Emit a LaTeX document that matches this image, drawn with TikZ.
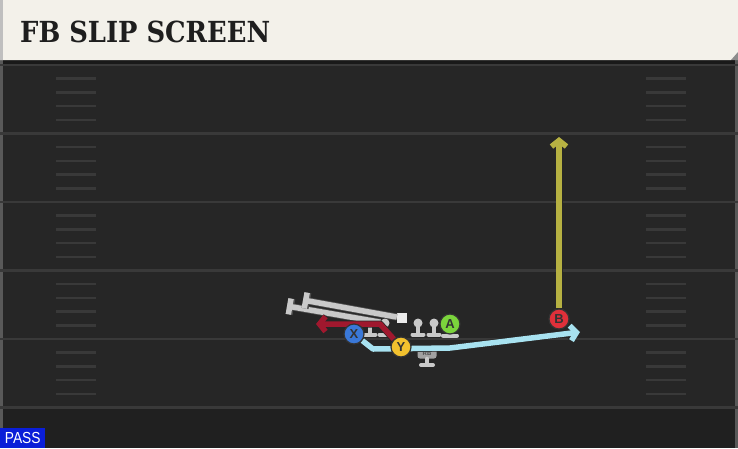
\documentclass[tikz,border=0pt]{standalone}
\usepackage{fontspec}
\setsansfont{Liberation Sans}
\newfontfamily\titlefont{DejaVu Serif}
\usetikzlibrary{arrows.meta}
\usetikzlibrary{positioning}

\definecolor{headerbg}{HTML}{F3F1EA}
\definecolor{titleblack}{HTML}{1E1E1E}
\definecolor{fieldbg}{HTML}{262626}
\definecolor{fieldlow}{HTML}{202020}
\definecolor{yardline}{HTML}{393939}
\definecolor{passblue}{HTML}{0A1ED8}
\definecolor{olgray}{HTML}{C9C9C9}
\definecolor{xblue}{HTML}{3A78D8}
\definecolor{yyellow}{HTML}{F2C12E}
\definecolor{agreen}{HTML}{7BD43C}
\definecolor{bred}{HTML}{E0303A}
\definecolor{redroute}{HTML}{A0182E}
\definecolor{cyanroute}{HTML}{A8E2F0}
\definecolor{oliveroute}{HTML}{B6B142}

\pgfdeclarelayer{bg}
\pgfdeclarelayer{mid}
\pgfsetlayers{bg,mid,main}

\begin{document}
\begin{tikzpicture}[x=1pt,y=-1pt,
  player/.style={circle, draw=black!80, line width=1.2pt, minimum size=20pt, inner sep=0pt,
    font=\sffamily\bfseries\fontsize{13}{13}\selectfont, text=black!80},
  head/.style={circle, fill=olgray, minimum size=9pt, inner sep=0pt},
  route/.style={line width=5.5pt, line join=round, preaction={draw=black!85, line width=7pt},
    -{Straight Barb[length=6pt,width=15pt]}},
  block/.style={line width=5.5pt, draw=olgray, preaction={draw=black!70, line width=7pt},
    -{Bar[width=16pt]}},
  foot/.style={olgray, line width=4pt, line cap=round}]
\useasboundingbox (0,0) rectangle (738,448);

\begin{pgfonlayer}{bg}
%field
\fill[fieldbg] (0,60) rectangle (738,448);
\fill[fieldlow] (0,408) rectangle (738,448);
\fill[black!90] (0,60) rectangle (738,64);
\fill[black!65] (0,60) rectangle (3,448);
\fill[black!65] (735,60) rectangle (738,448);

%yard lines
\foreach \y in {65,133.5,202,270.5,339,407.5} {
\draw[yardline, line width=2.5pt] (0,\y) -- (738,\y);
}
%hash marks
\foreach \y in {65,133.5,202,270.5,339} {
\foreach \k in {1,...,4} {
\draw[yardline, line width=2.5pt] (56,\y+\k*13.7) -- (96,\y+\k*13.7);
\draw[yardline, line width=2.5pt] (646,\y+\k*13.7) -- (686,\y+\k*13.7);
}
}

%header
\fill[headerbg] (0,0) -- (738,0) -- (738,52) -- (731,60) -- (0,60) -- cycle;
\fill[black!45] (731,60) -- (738,52) -- (738,60) -- cycle;
\fill[black!25] (0,0) rectangle (3,60);
\end{pgfonlayer}

\node[anchor=base west, inner sep=0pt, text=titleblack,
  font=\titlefont\bfseries\fontsize{29}{29}\selectfont] (title) at (20,42) {\scalebox{0.89}[1]{FB SLIP SCREEN}};

%players
\node[player, fill=xblue] (X) at (354,334) {X};
\node[player, fill=yyellow] (Y) at (401,347) {Y};
\node[player, fill=agreen] (A) at (450,324) {A};
\node[player, fill=bred] (B) at (559,319) {B};

\begin{pgfonlayer}{mid}
%line
\foreach \x/\n in {370/lt,385/lg,418/rg,434/rt} {
\draw[foot] (\x,326) -- (\x,333);
\draw[foot] (\x-5.5,334.5) -- (\x+5.5,334.5);
\node[head] (\n) at (\x,323) {};
}
\draw[foot] (443,335.5) -- (457,335.5);
\node[fill=white!92!black, minimum size=10pt, inner sep=0pt] (c) at (402,318) {};

%running back
\node[fill=olgray!80!black, rounded corners=2.5pt, minimum width=19pt, minimum height=10pt,
  inner sep=0pt, text=black!70, font=\sffamily\bfseries\fontsize{6}{6}\selectfont] (rb) at (427,353.5) {RB};
\draw[foot] (rb.south) -- ++(0,6);
\draw[foot] (421,365) -- (433,365);

%protection
\coordinate (pl) at (287,306);
\coordinate (pu) at (303,300);
\draw[block] (lg) -- (pl);
\draw[block] (c) -- (pu);

%routes
\coordinate (rturn) at (380,324);
\coordinate (rend) at (316,324);
\coordinate (cdip) at (373,349);
\coordinate (cflat) at (450,348);
\coordinate (cend) at (580,332);
\coordinate (bend) at (559,137);
\draw[route, redroute] (Y) -- (rturn) -- (rend);
\draw[route, cyanroute] (X) -- (cdip) -- (cflat) -- (cend);
\draw[route, oliveroute] (B) -- (bend);
\end{pgfonlayer}

%play type
\node[fill=passblue, text=white, anchor=south west, minimum width=45pt, minimum height=20pt,
  inner sep=0pt, font=\sffamily\fontsize{16}{16}\selectfont] (pass) at (0,448) {\scalebox{0.86}[1]{PASS}};
\end{tikzpicture}
\end{document}
